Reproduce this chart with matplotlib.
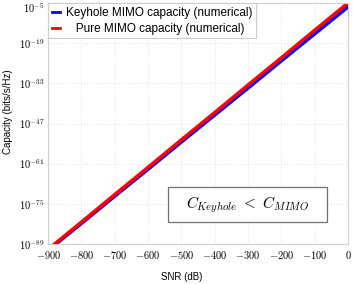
import numpy as np
import matplotlib.pyplot as plt
import matplotlib.patches as mpatches
import matplotlib.transforms as mtransforms
from matplotlib.ticker import FixedLocator, FuncFormatter

plt.rcParams["mathtext.fontset"] = "cm"
plt.rcParams["font.family"] = ["Liberation Sans", "DejaVu Sans"]

# values (log10 of capacity)
snr_db = [-900, -800, -700, -600, -500, -400, -300, -200, -100, 0]
keyhole_log = [-91.2, -81.8, -72.3, -62.9, -53.4, -44.0, -34.6, -25.1, -15.7, -6.3]
mimo_log = [-90.9, -81.4, -71.8, -62.3, -52.7, -43.2, -33.6, -24.1, -14.5, -5.0]

yticks_exp = [-89, -75, -61, -47, -33, -19, -5]
xticks = [-900, -800, -700, -600, -500, -400, -300, -200, -100, 0]

keyhole = 10.0 ** np.array(keyhole_log)
mimo = 10.0 ** np.array(mimo_log)

fig = plt.figure(figsize=(3.54, 2.84), dpi=100)
ax = fig.add_axes([0.136, 0.141, 0.847, 0.848])

ax.semilogy(snr_db, keyhole, color="#0000ff", lw=2.6, label="Keyhole MIMO capacity (numerical)")
ax.semilogy(snr_db, mimo, color="#ff0000", lw=2.6, label="   Pure MIMO capacity (numerical)")

ax.set_xlim(-900, 0)
ax.set_ylim(1e-89, 1e-5)
ax.xaxis.set_major_locator(FixedLocator(xticks))
ax.xaxis.set_major_formatter(FuncFormatter(lambda v, p: r"$%d$" % v))
ax.yaxis.set_major_locator(FixedLocator([10.0 ** e for e in yticks_exp]))
ax.yaxis.set_minor_locator(FixedLocator([]))
ax.yaxis.set_major_formatter(FuncFormatter(lambda v, p: r"$10^{%d}$" % round(np.log10(v))))
ax.tick_params(labelsize=7.5, length=0)
ax.tick_params(axis="x", pad=3.5)
ax.tick_params(axis="y", pad=2.5)

ax.grid(True, color="#e6e6e6", ls=":", lw=0.8)
for s in ax.spines.values():
    s.set_color("#d0d0d0")
    s.set_linewidth(0.8)

fig.text(182 / 354, 1 - 277 / 284, "SNR (dB)", fontsize=7, ha="center", va="center")
fig.text(8 / 354, 1 - 112 / 284, "Capacity (bits/s/Hz)", fontsize=7,
         ha="center", va="center", rotation=90)

leg = ax.legend(loc="upper left", fontsize=8.5, handlelength=0.7, borderaxespad=0,
                fancybox=False, framealpha=1, edgecolor="#cccccc",
                borderpad=0.3, labelspacing=0.35, handletextpad=0.5)
leg.get_frame().set_linewidth(0.8)
for h in leg.get_lines():
    h.set_linewidth(2.0)

# annotation box
ax.add_patch(mpatches.Rectangle((0.40, 0.091), 0.53, 0.146, transform=ax.transAxes,
                                fc="white", ec="#707070", lw=0.9, zorder=5))
ax.text(0.665, 0.164, r"$C_{Keyhole}\ <\ C_{MIMO}$", transform=ax.transAxes,
        fontsize=11, ha="center", va="center", zorder=6)

# keep the top tick label inside the figure
fig.canvas.draw()
top_tick = ax.yaxis.get_major_ticks()[-1]
top_tick.label1.set_transform(top_tick.label1.get_transform()
                              + mtransforms.ScaledTranslation(0, -4 / 100, fig.dpi_scale_trans))

fig.savefig("out.png", dpi=100)
